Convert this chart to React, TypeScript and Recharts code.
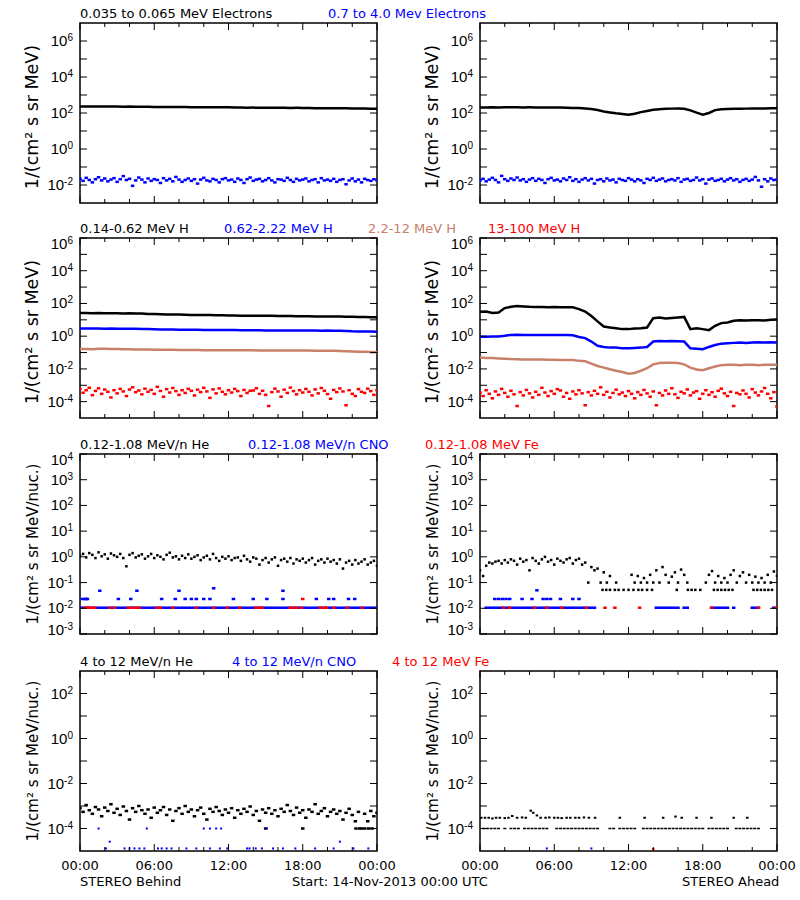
import React from 'react';
import { ComposedChart, Line, Scatter, XAxis, YAxis, ReferenceArea } from 'recharts';

const PLOT_W = 297;
const PLOT_H = 180;

const BLACK = '#000000';
const BLUE = '#0000ff';
const BROWN = '#c8806a';
const RED = '#ff0000';

// time grids (hours from start)
const hoursH = [0,0.5,1,1.5,2,2.5,3,3.5,4,4.5,5,5.5,6,6.5,7,7.5,8,8.5,9,9.5,10,10.5,11,11.5,12,12.5,13,13.5,14,14.5,15,15.5,16,16.5,17,17.5,18,18.5,19,19.5,20,20.5,21,21.5,22,22.5,23,23.5,24];
const hoursQ = [0,0.25,0.5,0.75,1,1.25,1.5,1.75,2,2.25,2.5,2.75,3,3.25,3.5,3.75,4,4.25,4.5,4.75,5,5.25,5.5,5.75,6,6.25,6.5,6.75,7,7.25,7.5,7.75,8,8.25,8.5,8.75,9,9.25,9.5,9.75,10,10.25,10.5,10.75,11,11.25,11.5,11.75,12,12.25,12.5,12.75,13,13.25,13.5,13.75,14,14.25,14.5,14.75,15,15.25,15.5,15.75,16,16.25,16.5,16.75,17,17.25,17.5,17.75,18,18.25,18.5,18.75,19,19.25,19.5,19.75,20,20.25,20.5,20.75,21,21.25,21.5,21.75,22,22.25,22.5,22.75,23,23.25,23.5,23.75,24];

const xTicks = [0,2,4,6,8,10,12,14,16,18,20,22,24];
const xMajor = [0,6,12,18,24];
const xMajorLabels = ['00:00','06:00','12:00','18:00','00:00'];

// ---- electrons (row 1) ----
const elecLoB = [232,230,231,229,228,230,227,226,228,225,224,222,218,215,216,214,213,215,212,210,211,209,208,210,206,205,200,198,199,197,196,195,197,194,192,193,191,190,186,185,184,186,183,182,180,178,176,174,172];
const elecHiB = [0.022,0.017,0.025,0.019,0.014,0.021,0.027,0.018,0.023,0.016,0.02,0.024,
  0.015,0.021,0.031,0.019,0.022,0.009,0.018,0.026,0.02,0.014,0.023,0.017,
  0.021,0.019,0.013,0.024,0.018,0.022,0.016,0.028,0.02,0.015,0.019,0.023,
  0.017,0.021,0.012,0.02,0.025,0.018,0.016,0.022,0.019,0.014,0.021,0.024,
  0.018,0.02,0.015,0.023,0.019,0.013,0.021,0.026,0.017,0.02,0.022,0.016,
  0.019,0.024,0.018,0.014,0.021,0.02,0.017,0.025,0.019,0.015,0.022,0.018,
  0.02,0.023,0.016,0.019,0.021,0.014,0.024,0.018,0.02,0.017,0.022,0.015,
  0.019,0.021,0.011,0.018,0.023,0.016,0.02,0.014,0.022,0.019,0.017,0.021,0.018];
const elecLoA = [205,203,207,205,208,206,207,205,206,204,205,203,204,200,196,192,188,180,165,145,120,108,96,88,80,92,112,130,150,162,172,175,176,170,140,105,80,100,145,160,168,172,174,175,176,178,180,182,185];
const elecHiA = [0.018,0.022,0.016,0.02,0.025,0.019,0.014,0.032,0.021,0.017,0.023,0.019,
  0.026,0.018,0.021,0.015,0.02,0.024,0.017,0.022,0.019,0.013,0.021,0.025,
  0.018,0.02,0.016,0.023,0.019,0.027,0.017,0.021,0.015,0.02,0.024,0.018,
  0.022,0.012,0.019,0.021,0.016,0.023,0.018,0.02,0.014,0.022,0.019,0.017,
  0.024,0.02,0.016,0.021,0.018,0.013,0.022,0.019,0.025,0.017,0.02,0.023,
  0.016,0.019,0.021,0.018,0.024,0.015,0.02,0.022,0.017,0.019,0.026,0.018,
  0.021,0.012,0.02,0.023,0.017,0.019,0.022,0.016,0.02,0.024,0.018,0.021,
  0.015,0.019,0.022,0.017,0.02,0.028,0.018,0.008,0.021,0.016,0.023,0.019,0.02];

// ---- protons (row 2) ----
const hLoB = [26,26,25.5,26,25,25.5,25,24.5,25,24,24.5,23,22.5,22,21.5,21,21,20.5,20,20,19.5,19.5,19,19,18.5,18.5,18,18,17.8,17.5,17.5,17.5,17,17,17.2,16.8,16.5,16.5,16.2,16,16,15.8,15.8,15.5,15.5,15,14.8,14.5,14.5];
const hMidB = [2.95,2.9,2.95,2.9,2.85,2.9,2.85,2.8,2.85,2.8,2.75,2.7,2.65,2.6,2.6,2.55,2.5,2.5,2.45,2.45,2.4,2.4,2.4,2.35,2.35,2.35,2.3,2.3,2.3,2.3,2.25,2.25,2.25,2.25,2.2,2.2,2.2,2.2,2.2,2.15,2.2,2.15,2.15,2.1,2.0,1.95,1.95,1.9,1.85];
const hHiB = [0.165,0.165,0.16,0.17,0.168,0.165,0.162,0.16,0.158,0.155,0.155,0.152,0.15,0.15,0.148,0.146,0.145,0.145,0.142,0.142,0.14,0.14,0.14,0.138,0.138,0.137,0.137,0.136,0.136,0.135,0.135,0.135,0.134,0.134,0.133,0.133,0.132,0.132,0.131,0.13,0.13,0.128,0.125,0.12,0.115,0.112,0.11,0.108,0.105];
const hTopB = [6e-4,3.5e-4,5e-4,7e-4,2.5e-4,4.5e-4,6.5e-4,3e-4,5.5e-4,4e-4,1.8e-4,5e-4,
  3.2e-4,6e-4,4.2e-4,2.2e-4,5.5e-4,7.5e-4,3.8e-4,4.8e-4,2.8e-4,6.2e-4,4e-4,5.2e-4,
  3e-4,8e-4,4.5e-4,2e-4,5.8e-4,3.6e-4,6.8e-4,4.4e-4,2.6e-4,5e-4,3.4e-4,6e-4,
  4.6e-4,2.4e-4,5.4e-4,3.8e-4,7e-4,4.2e-4,1.7e-4,5.6e-4,3.2e-4,6.4e-4,4e-4,2.8e-4,
  5e-4,3.6e-4,6e-4,4.4e-4,2.2e-4,5.2e-4,3.4e-4,4.6e-4,4.8e-4,6.6e-4,3e-4,4.6e-4,
  2.6e-4,5.4e-5,3.8e-4,6.2e-4,4.2e-4,2e-4,5.4e-4,3.4e-4,7.2e-4,4.4e-4,2.8e-4,5e-4,
  3.6e-4,6e-4,4e-4,2.4e-4,5.6e-4,3.2e-4,6.8e-4,4.6e-4,2.9e-4,1.5e-4,5.2e-4,3.8e-4,
  6.4e-4,4.2e-4,6e-5,5e-4,3e-4,2.2e-4,5.8e-4,4e-4,3.4e-4,6.2e-4,4.4e-4,2.6e-4,5e-4];
const hLoA = [31,32,26,28,52,63,69,66,62,60,61,59,60,58,59,58,45,32,17,8,3.9,3.4,3.1,2.7,2.7,2.9,3.1,3.4,12.6,13.8,12,13,14,15,2.7,3.1,2.7,2.35,4.3,6.3,6.9,8.7,9.5,9.1,9.5,9.5,9.1,10,10.5];
const hMidA = [0.91,0.93,0.95,0.97,1.05,1.2,1.22,1.2,1.18,1.2,1.2,1.18,1.2,1.17,1.18,1.15,0.9,0.76,0.47,0.26,0.22,0.2,0.2,0.18,0.18,0.19,0.2,0.22,0.47,0.5,0.49,0.5,0.49,0.47,0.18,0.17,0.16,0.22,0.29,0.35,0.37,0.39,0.41,0.39,0.41,0.42,0.41,0.42,0.41];
const hHiA = [0.049,0.047,0.046,0.044,0.042,0.04,0.039,0.038,0.038,0.037,0.037,0.036,0.036,0.035,0.035,0.035,0.031,0.029,0.021,0.015,0.012,0.0095,0.0077,0.0064,0.0051,0.0057,0.0077,0.011,0.019,0.023,0.024,0.024,0.023,0.019,0.012,0.0093,0.0084,0.011,0.014,0.017,0.018,0.018,0.017,0.018,0.018,0.017,0.018,0.018,0.018];
const hTopA = [3.5e-4,2.2e-4,5e-4,3e-4,1.6e-4,4.2e-4,2.6e-4,6e-4,3.4e-4,2e-4,4.6e-4,2.8e-4,
  5.4e-5,3.8e-4,2.4e-4,5.2e-4,3.2e-4,1.8e-4,4e-4,2.6e-4,7e-4,3.6e-4,2.2e-4,4.4e-4,
  3e-4,5.8e-4,4.8e-4,2e-4,3.4e-4,1.5e-4,4.2e-4,2.8e-4,5e-4,3.2e-4,6e-5,3.8e-4,
  2.4e-4,4.6e-4,3e-4,7.5e-4,2.6e-4,4e-4,1.8e-4,3.4e-4,5.4e-4,2.8e-4,3.6e-4,2.2e-4,
  4.4e-4,3e-4,1.6e-4,3.8e-4,2.6e-4,5.2e-4,3.2e-4,2e-4,4.2e-4,6e-5,3.4e-4,2.4e-4,
  4.8e-4,3e-4,6.6e-4,2.8e-4,1.7e-4,4e-4,3.2e-4,5.6e-4,2.4e-4,3.6e-4,4.4e-4,1.5e-4,
  3e-4,5e-4,2.6e-4,3.8e-4,2e-4,4.6e-4,6.2e-4,3.2e-4,2.2e-4,4e-4,5.4e-5,3.4e-4,
  2.8e-4,4.8e-4,3e-4,1.8e-4,5.8e-4,3.6e-4,2.4e-4,4.2e-4,6.8e-4,3e-4,1.6e-4,3.8e-4,5e-5];

// ---- 0.12-1.08 MeV/n heavy ions (row 3) ----
const heB = [1.1,1.3,0.95,1.4,1.2,0.9,1.5,1.05,1.25,0.85,1.35,1.15,
  1.0,1.3,0.9,0.43,1.2,1.4,0.95,1.1,1.25,0.85,1.05,1.3,
  0.9,1.15,1.0,0.8,1.2,1.45,0.95,1.05,0.8,1.1,0.9,1.25,
  0.85,1.0,1.15,0.75,0.95,1.1,0.8,1.3,0.9,0.7,1.0,0.85,
  1.05,0.75,0.9,0.95,0.7,1.1,0.8,0.65,0.95,0.85,0.5,0.75,
  0.9,0.6,0.8,0.95,0.45,0.75,0.85,0.65,0.9,0.55,0.8,0.7,
  0.85,0.6,0.75,0.9,0.5,0.7,0.8,0.6,0.85,0.65,0.75,0.55,
  0.8,0.35,0.6,0.7,0.5,0.75,0.55,0.65,0.8,0.5,0.6,0.7,0.45];
const cnoFloorB = 0.0105;
const cnoUpT_B = [0.2,0.4,0.5,0.6,1.6,3.1,4.1,4.6,6.6,7.7,8.0,8.5,9.0,9.4,10.0,10.5,10.8,12.4,14.0,15.1,16.4,16.4,19.1,20.1,20.5,21.7,22.2];
const cnoUpV_B = [0.023,0.023,0.023,0.023,0.048,0.023,0.023,0.048,0.023,0.023,0.048,0.023,0.023,0.023,0.023,0.023,0.06,0.023,0.023,0.023,0.023,0.048,0.023,0.023,0.023,0.023,0.023];
const feFloorT_B = [0.4,0.6,0.8,1.0,1.2,2.4,2.8,3.9,4.2,4.5,4.8,6.2,6.5,7.5,9.4,10.8,11.9,12.9,14.2,14.5,14.7,17.0,17.3,17.5,17.9,19.4,19.7,19.9,20.5,21.6,22.8];
const feUpT_B = [18.0];
const feUpV_B = [0.023];

const heA = [0.3,0.18,0.45,0.6,0.55,
  0.65,0.7,0.55,0.75,0.6,0.8,0.7,0.5,0.85,0.65,0.75,0.3,0.9,0.7,0.55,0.8,1.0,0.65,0.75,0.5,0.85,0.7,0.6,0.8,0.9,0.55,0.75,0.85,
  0.5,0.6,0.1,0.4,0.3,0.35,0.1,0.25,
  0.1,0.18,null,0.1,
  null,null,null,null,
  0.2,0.1,0.18,0.1,0.15,0.1,0.2,0.1,
  0.3,0.1,0.4,0.2,0.1,0.17,0.25,0.1,
  0.32,0.2,0.1,null,
  null,null,null,null,
  0.1,0.2,0.28,0.1,0.18,0.1,0.15,0.1,
  0.2,0.3,0.1,0.18,0.25,0.1,0.2,0.1,
  0.17,0.1,0.15,0.1,0.2,0.1,0.27,0.18];
const heFloorA = 0.052;
const heFloorT_A = [9.9,10.2,10.5,10.9,11.2,11.6,12.0,12.4,12.8,13.1,13.5,13.9,15.9,16.8,17.1,17.4,17.8,18.9,19.2,19.5,19.8,20.1,20.4,22.1,22.4,22.7,23.0,23.3,23.6];
const cnoFloorT_A = [0.5,0.75,1,1.25,1.5,1.75,2,2.25,2.5,2.75,3,3.25,3.5,3.75,4,4.25,4.5,4.75,5,5.25,5.5,5.75,6,6.25,6.5,6.75,7,7.25,7.5,7.75,8,8.25,8.5,8.75,9,9.25,14.25,14.5,14.75,15.0,15.25,15.5,15.75,16.0,16.5,16.75,18.75,19.0,19.25,19.5,19.75,20.0,20.5,22.0,22.25,22.5,23.75];
const cnoUpT_A = [1.2,1.5,1.8,2.1,2.4,3.4,4.2,4.6,5.1,5.4,5.7,6.5,7.5,8.0];
const cnoUpV_A = [0.023,0.023,0.023,0.023,0.023,0.023,0.023,0.05,0.023,0.023,0.023,0.023,0.023,0.023];
const feFloorT_A = [1.9,2.4,4.4,5.4,6.6,8.6,10.1,10.9,12.9,18.7,22.5,23.9];

// ---- 4-12 MeV/n heavy ions (row 4) ----
const he4B = [8e-4,5.5e-4,1.1e-3,6.5e-4,4.5e-4,9e-4,7e-4,3.5e-4,8.5e-4,6e-4,1.2e-3,5e-4,
  7.5e-4,4e-4,9.5e-4,6e-4,2.5e-4,8e-4,5.5e-4,1e-3,6.5e-4,4.5e-4,7e-4,3e-4,
  8.5e-4,5e-4,6.5e-4,9e-4,4e-4,7e-4,2.2e-4,6e-4,8e-4,4.5e-4,1e-3,5.5e-4,
  7e-4,3.5e-4,6.5e-4,8.5e-4,4.5e-4,2.5e-4,7.5e-4,5.5e-4,9e-4,6e-4,4e-4,7e-4,
  5e-4,8e-4,3e-4,6.5e-4,4.5e-4,7.5e-4,5.5e-4,9.5e-4,4e-4,6e-4,2.2e-4,7e-4,
  5e-4,8e-4,4.5e-4,6.5e-4,3.5e-4,7.5e-4,5.5e-4,1.1e-3,6e-4,4e-4,8.5e-4,5e-4,
  6.5e-4,3e-4,7e-4,5.5e-4,1.2e-3,4.5e-4,6e-4,8e-4,3.5e-4,5.5e-4,7e-4,4.5e-4,
  6e-4,2.5e-4,5e-4,7.5e-4,4e-4,2.1e-4,5.5e-4,1e-4,4.5e-4,2.1e-4,6e-4,3.5e-4,5e-4];
const he4LowT_B = [15.0,18.0,22.3,22.6,23.0,23.3,23.6];
const he4Low = 1e-4;
const cno4T_B = [1.5,5.4,10.0,10.5,11.0,11.4,15.1,2.4,21.0,2.1,3.6,4.0,4.4,4.8,5.2,6.3,6.6,7.0,7.4,8.6,9.4,10.5,11.3,11.9,13.5,13.7,14.2,14.7,15.6,16.4,17.4,19.0,20.5,22.1,23.3];
const cno4V_B = [1e-4,1e-4,1e-4,1e-4,1e-4,1e-4,1e-4,2.6e-5,2.6e-5,1.3e-5,1.3e-5,1.3e-5,1.3e-5,1.3e-5,1.3e-5,1.3e-5,1.3e-5,1.3e-5,1.3e-5,1.3e-5,1.3e-5,1.3e-5,1.3e-5,1.3e-5,1.3e-5,1.3e-5,1.3e-5,1.3e-5,1.3e-5,1.3e-5,1.3e-5,1.3e-5,1.3e-5,1.3e-5,1.3e-5];
const he4T_A = [0.1,0.4,0.7,1.0,1.3,1.6,2.0,2.3,2.6,3.0,3.4,3.7,4.1,4.3,4.6,4.9,5.3,5.6,6.0,6.3,6.6,7.0,7.3,7.7,8.0,8.4,8.8,9.3,11.3,13.3,14.8,15.8,16.3,17.5,18.7,20.5,21.6];
const he4V_A = [3e-4,3e-4,3e-4,2.8e-4,3e-4,3e-4,2.9e-4,3e-4,3.6e-4,3e-4,3.1e-4,3e-4,6.2e-4,5e-4,3.8e-4,3e-4,3e-4,3.1e-4,3e-4,3e-4,2.9e-4,3e-4,3e-4,3e-4,3e-4,3.1e-4,3e-4,3e-4,3e-4,3e-4,3e-4,3.4e-4,3e-4,3e-4,3e-4,3e-4,3e-4];
const he4FloorT_A = [0.3,0.6,0.9,1.2,1.5,2.0,2.5,2.8,3.1,3.6,3.9,4.2,4.5,4.8,5.1,5.4,6.2,6.5,6.8,7.1,7.4,7.7,8.0,8.3,8.6,8.9,9.2,9.5,10.5,10.8,11.3,11.6,11.9,12.2,12.5,13.2,13.5,13.8,14.1,14.4,14.7,15.0,15.3,15.6,15.9,16.2,16.5,16.8,17.1,17.4,17.7,18.0,18.5,18.8,19.1,19.4,19.7,20.0,20.7,21.0,21.3,21.6,21.9,22.2,22.5];
const cno4T_A = [5.4,9.0];
const cno4V_A = [1.3e-5,1.3e-5];
const fe4T_A = [14.0];
const fe4V_A = [1.2e-5];

type Dot = { t: number; v: number };
const toDots = (ts: number[], vs: (number | null)[]): Dot[] =>
  ts.flatMap((t, i) => (vs[i] == null ? [] : [{ t, v: vs[i] as number }]));
const atLevel = (ts: number[], level: number): Dot[] => ts.map((t) => ({ t, v: level }));

type Series = { kind: 'line' | 'dots'; color: string; data: Dot[]; w?: number; h?: number };

const XTick = (props: any) => {
  const { x, y, payload, showLabel } = props;
  const idx = xMajor.indexOf(payload.value);
  const major = idx >= 0;
  const len = major ? 7 : 4;
  return (
    <g>
      <line x1={x} x2={x} y1={y} y2={y - len} stroke="#000" strokeWidth={1} />
      <line x1={x} x2={x} y1={y - PLOT_H} y2={y - PLOT_H + len} stroke="#000" strokeWidth={1} />
      {showLabel && major && (
        <text x={x} y={y + 19} textAnchor="middle" fontFamily="DejaVu Sans" fontSize={13} fill="#000">
          {xMajorLabels[idx]}
        </text>
      )}
    </g>
  );
};

const YTick = (props: any) => {
  const { x, y, payload, labelAll, domain } = props;
  const e = Math.round(Math.log10(payload.value));
  const show = labelAll || e % 2 === 0;
  const eTop = Math.round(Math.log10(domain[1]));
  const eBot = Math.round(Math.log10(domain[0]));
  const shift = e === eTop ? 6 : e === eBot ? -4 : 0;
  return (
    <g>
      <line x1={x} x2={x + 7} y1={y} y2={y} stroke="#000" strokeWidth={1} />
      <line x1={x + PLOT_W} x2={x + PLOT_W - 7} y1={y} y2={y} stroke="#000" strokeWidth={1} />
      {show && (
        <text x={x - 7} y={y + 5 + shift} textAnchor="end" fontFamily="Liberation Sans" fontSize={15} fill="#000">
          10<tspan dy={-5} fontSize={10}>{e}</tspan>
        </text>
      )}
    </g>
  );
};

const square = (color: string, w: number, h: number) => (p: any) =>
  p.cx == null ? <g /> : <rect x={p.cx - w / 2} y={p.cy - h / 2} width={w} height={h} fill={color} />;

interface PanelProps {
  left: number;
  top: number;
  domain: [number, number];
  yTicks: number[];
  labelAll?: boolean;
  xLabels?: boolean;
  series: Series[];
}

const Panel: React.FC<PanelProps> = ({ left, top, domain, yTicks, labelAll, xLabels, series }) => (
  <div style={{ position: 'absolute', left, top: top - 10 }}>
    <ComposedChart width={400} height={220} margin={{ top: 10, right: 23, bottom: 0, left: 0 }}>
      <XAxis
        type="number"
        dataKey="t"
        domain={[0, 24]}
        ticks={xTicks}
        interval={0}
        allowDataOverflow
        axisLine={false}
        tickLine={false}
        tickSize={0}
        tickMargin={0}
        height={30}
        tick={(p: any) => <XTick {...p} showLabel={xLabels} />}
      />
      <YAxis
        type="number"
        dataKey="v"
        scale="log"
        domain={domain}
        ticks={yTicks}
        interval={0}
        allowDataOverflow
        axisLine={false}
        tickLine={false}
        tickSize={0}
        tickMargin={0}
        width={80}
        tick={(p: any) => <YTick {...p} labelAll={labelAll} domain={domain} />}
      />
      <ReferenceArea x1={0} x2={24} y1={domain[0]} y2={domain[1]} fill="none" stroke="#000" strokeWidth={1.5} ifOverflow="visible" />
      {series.map((s, i) =>
        s.kind === 'line' ? (
          <Line key={i} data={s.data} dataKey="v" type="linear" stroke={s.color} strokeWidth={2.5} dot={false} isAnimationActive={false} />
        ) : (
          <Scatter key={i} data={s.data} fill={s.color} shape={square(s.color, s.w ?? 3.5, s.h ?? 2.5)} isAnimationActive={false} />
        )
      )}
    </ComposedChart>
  </div>
);

const rowTops = [23, 238, 454, 671];

const yTitleE = '1/(cm² s sr MeV)';
const yTitleN = '1/(cm² s sr MeV/nuc.)';

const titles: { x: number; row: number; text: string; color: string }[] = [
  { x: 80, row: 0, text: '0.035 to 0.065 MeV Electrons', color: BLACK },
  { x: 328, row: 0, text: '0.7 to 4.0 Mev Electrons', color: BLUE },
  { x: 80, row: 1, text: '0.14-0.62 MeV H', color: BLACK },
  { x: 224, row: 1, text: '0.62-2.22 MeV H', color: BLUE },
  { x: 368, row: 1, text: '2.2-12 MeV H', color: BROWN },
  { x: 488, row: 1, text: '13-100 MeV H', color: RED },
  { x: 80, row: 2, text: '0.12-1.08 MeV/n He', color: BLACK },
  { x: 248, row: 2, text: '0.12-1.08 MeV/n CNO', color: BLUE },
  { x: 425, row: 2, text: '0.12-1.08 MeV Fe', color: RED },
  { x: 80, row: 3, text: '4 to 12 MeV/n He', color: BLACK },
  { x: 232, row: 3, text: '4 to 12 MeV/n CNO', color: BLUE },
  { x: 392, row: 3, text: '4 to 12 MeV Fe', color: RED },
];

const dec = (a: number, b: number) => {
  const out: number[] = [];
  for (let e = a; e <= b; e++) out.push(Math.pow(10, e));
  return out;
};

export default function App() {
  const row1Ticks = dec(-2, 6);
  const row2Ticks = dec(-4, 6);
  const row3Ticks = dec(-3, 4);
  const row4Ticks = dec(-4, 2);

  return (
    <div style={{ position: 'absolute', left: 0, top: 0, width: 800, height: 900, background: '#fff' }}>
      {/* row 1 */}
      <Panel left={0} top={rowTops[0]} domain={[1e-3, 1e7]} yTicks={row1Ticks}
        series={[
          { kind: 'line', color: BLACK, data: toDots(hoursH, elecLoB) },
          { kind: 'dots', color: BLUE, data: toDots(hoursQ, elecHiB) },
        ]} />
      <Panel left={400} top={rowTops[0]} domain={[1e-3, 1e7]} yTicks={row1Ticks}
        series={[
          { kind: 'line', color: BLACK, data: toDots(hoursH, elecLoA) },
          { kind: 'dots', color: BLUE, data: toDots(hoursQ, elecHiA) },
        ]} />
      {/* row 2 */}
      <Panel left={0} top={rowTops[1]} domain={[1e-5, 1e6]} yTicks={row2Ticks}
        series={[
          { kind: 'line', color: BLACK, data: toDots(hoursH, hLoB) },
          { kind: 'line', color: BLUE, data: toDots(hoursH, hMidB) },
          { kind: 'line', color: BROWN, data: toDots(hoursH, hHiB) },
          { kind: 'dots', color: RED, data: toDots(hoursQ, hTopB) },
        ]} />
      <Panel left={400} top={rowTops[1]} domain={[1e-5, 1e6]} yTicks={row2Ticks}
        series={[
          { kind: 'line', color: BLACK, data: toDots(hoursH, hLoA) },
          { kind: 'line', color: BLUE, data: toDots(hoursH, hMidA) },
          { kind: 'line', color: BROWN, data: toDots(hoursH, hHiA) },
          { kind: 'dots', color: RED, data: toDots(hoursQ, hTopA) },
        ]} />
      {/* row 3 */}
      <Panel left={0} top={rowTops[2]} domain={[1e-3, 1e4]} yTicks={row3Ticks} labelAll
        series={[
          { kind: 'dots', color: BLACK, data: toDots(hoursQ, heB), w: 2.5 },
          { kind: 'dots', color: BLUE, data: atLevel(hoursQ, cnoFloorB) },
          { kind: 'dots', color: BLUE, data: toDots(cnoUpT_B, cnoUpV_B) },
          { kind: 'dots', color: RED, data: atLevel(feFloorT_B, cnoFloorB) },
          { kind: 'dots', color: RED, data: toDots(feUpT_B, feUpV_B) },
        ]} />
      <Panel left={400} top={rowTops[2]} domain={[1e-3, 1e4]} yTicks={row3Ticks} labelAll
        series={[
          { kind: 'dots', color: BLACK, data: toDots(hoursQ, heA), w: 2.5 },
          { kind: 'dots', color: BLACK, data: atLevel(heFloorT_A, heFloorA), w: 2.5 },
          { kind: 'dots', color: BLUE, data: atLevel(cnoFloorT_A, cnoFloorB) },
          { kind: 'dots', color: BLUE, data: toDots(cnoUpT_A, cnoUpV_A) },
          { kind: 'dots', color: RED, data: atLevel(feFloorT_A, cnoFloorB) },
        ]} />
      {/* row 4 */}
      <Panel left={0} top={rowTops[3]} domain={[1e-5, 1e3]} yTicks={row4Ticks} xLabels
        series={[
          { kind: 'dots', color: BLACK, data: toDots(hoursQ, he4B) },
          { kind: 'dots', color: BLACK, data: atLevel(he4LowT_B, he4Low) },
          { kind: 'dots', color: BLUE, data: toDots(cno4T_B, cno4V_B), w: 2, h: 2 },
        ]} />
      <Panel left={400} top={rowTops[3]} domain={[1e-5, 1e3]} yTicks={row4Ticks} xLabels
        series={[
          { kind: 'dots', color: BLACK, data: toDots(he4T_A, he4V_A), w: 2.5, h: 2 },
          { kind: 'dots', color: BLACK, data: atLevel(he4FloorT_A, he4Low), w: 3, h: 1.5 },
          { kind: 'dots', color: BLUE, data: toDots(cno4T_A, cno4V_A), w: 2, h: 2 },
          { kind: 'dots', color: RED, data: toDots(fe4T_A, fe4V_A), w: 2.5, h: 2.5 },
        ]} />

      <svg width={800} height={900} style={{ position: 'absolute', left: 0, top: 0, pointerEvents: 'none' }}>
        {titles.map((t, i) => (
          <text key={i} x={t.x} y={rowTops[t.row] - 5} fill={t.color} fontFamily="DejaVu Sans" fontSize={13}>
            {t.text}
          </text>
        ))}
        {rowTops.map((top, r) =>
          [0, 400].map((dx) => {
            const cy = top + PLOT_H / 2 + (r < 2 ? 4 : 0);
            const cx = dx + 38;
            return (
              <text key={`${r}-${dx}`} x={cx} y={cy} transform={`rotate(-90 ${cx} ${cy})`} textAnchor="middle"
                fontFamily="DejaVu Sans" fontSize={r < 2 ? 17.5 : 15} fill="#000">
                {r < 2 ? yTitleE : yTitleN}
              </text>
            );
          })
        )}
        <text x={80} y={886} fontFamily="DejaVu Sans" fontSize={13} fill="#000">STEREO Behind</text>
        <text x={292} y={886} fontFamily="DejaVu Sans" fontSize={13} fill="#000">Start: 14-Nov-2013 00:00 UTC</text>
        <text x={682} y={886} fontFamily="DejaVu Sans" fontSize={13} fill="#000">STEREO Ahead</text>
      </svg>
    </div>
  );
}
